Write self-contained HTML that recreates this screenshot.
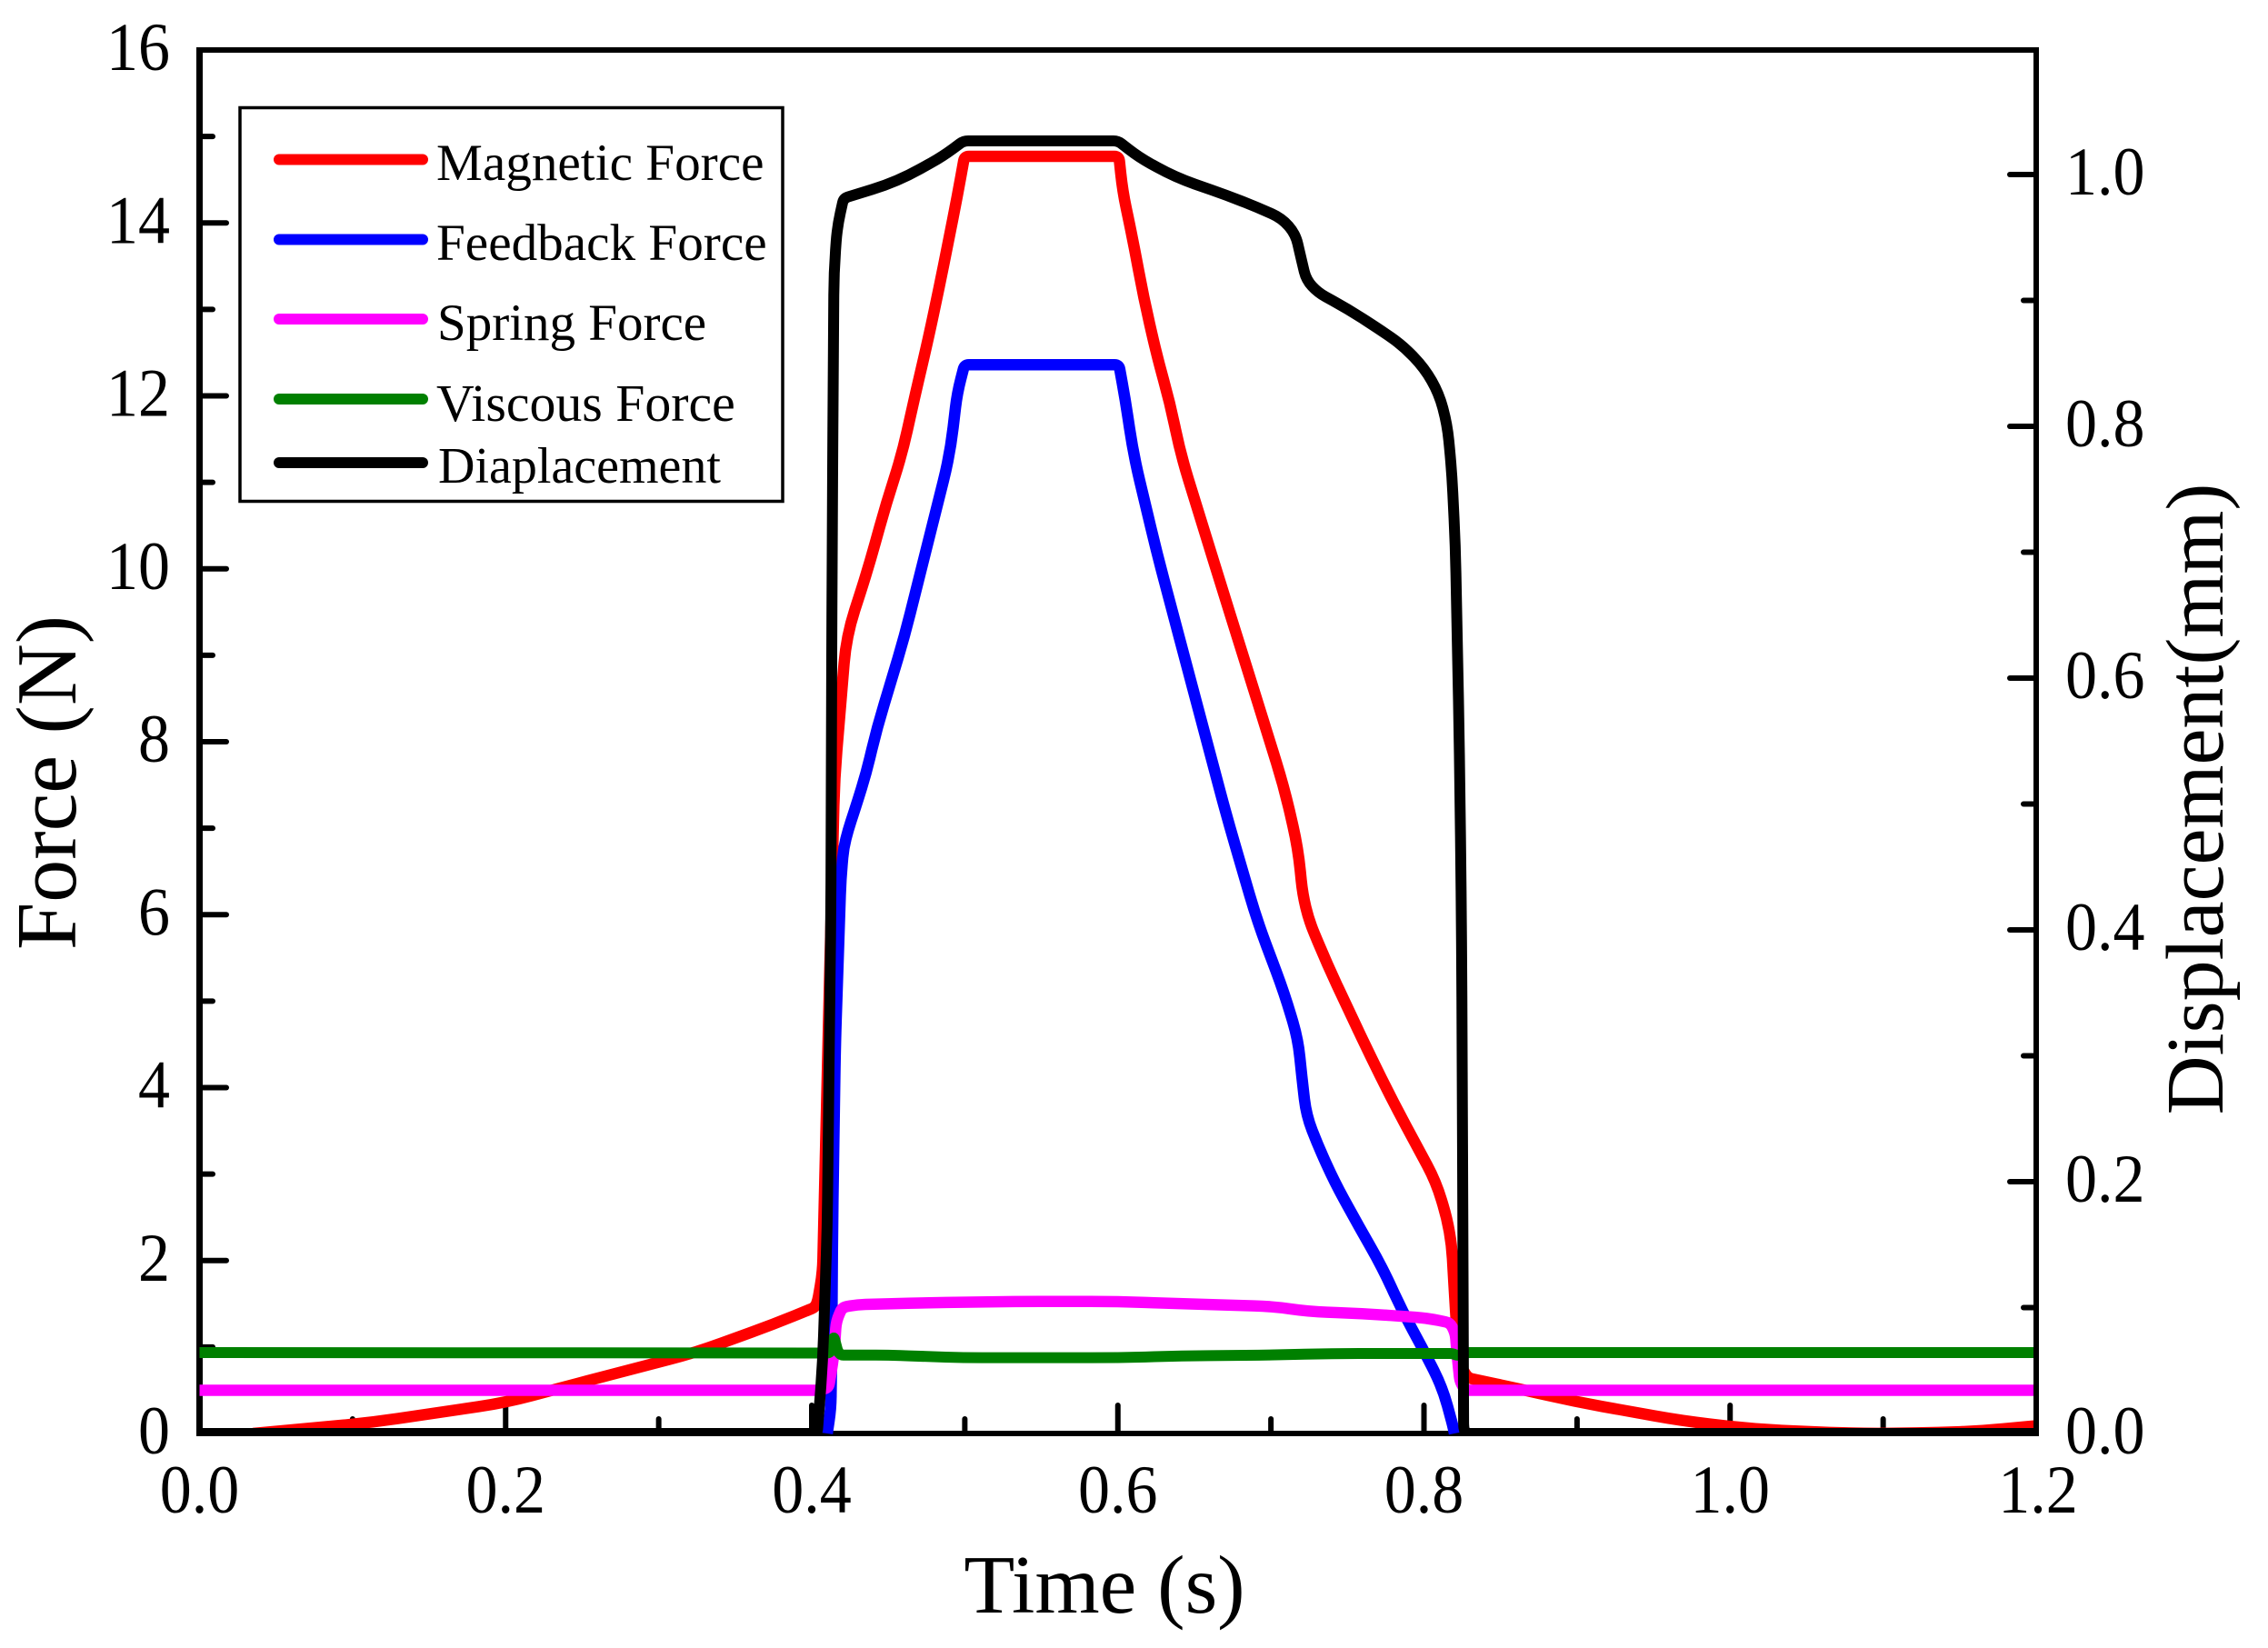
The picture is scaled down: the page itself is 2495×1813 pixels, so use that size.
<!DOCTYPE html>
<html lang="en">
<head>
<meta charset="utf-8">
<title>Force and displacement over time</title>
<style>
html,body{margin:0;padding:0;background:#fff;}
body{width:2495px;height:1813px;overflow:hidden;}
svg{display:block;}
text{font-family:"Liberation Serif","Times New Roman",serif;fill:#000;}
</style>
</head>
<body>
<svg id="chart" xmlns="http://www.w3.org/2000/svg" width="2495" height="1813" viewBox="0 0 2495 1813">
  <defs>
    <clipPath id="plot-clip"><rect x="219" y="50" width="2018" height="1530"></rect></clipPath>
  </defs>
  <rect x="0" y="0" width="2495" height="1813" fill="#fff"></rect>
  <g id="under-axes"></g>
  <g id="series" clip-path="url(#plot-clip)"></g>
  <g id="over-axes"></g>
  <g id="labels"></g>

  <text x="1215" y="1774" font-size="91.5" text-anchor="middle">Time (s)</text>
  <text transform="translate(83,861) rotate(-90)" font-size="94" text-anchor="middle">Force (N)</text>
  <text transform="translate(2445,879) rotate(-90)" font-size="90" text-anchor="middle">Displacement(mm)</text>

  <g>
    <rect x="264" y="118.5" width="597" height="433" fill="#fff" stroke="#000" stroke-width="3.5"></rect>
    <g>
      <line x1="307" y1="175.5" x2="465" y2="175.5" stroke="#ff0000" stroke-width="12" stroke-linecap="round"></line>
      <text x="480" y="198" font-size="57.2">Magnetic Force</text>
    </g>
    <g>
      <line x1="307" y1="263.5" x2="465" y2="263.5" stroke="#0000ff" stroke-width="12" stroke-linecap="round"></line>
      <text x="480" y="286" font-size="57.2">Feedback Force</text>
    </g>
    <g>
      <line x1="307" y1="351" x2="465" y2="351" stroke="#ff00ff" stroke-width="12" stroke-linecap="round"></line>
      <text x="481" y="374" font-size="57">Spring Force</text>
    </g>
    <g>
      <line x1="307" y1="439" x2="465" y2="439" stroke="#008000" stroke-width="12" stroke-linecap="round"></line>
      <text x="480" y="463" font-size="57.8">Viscous Force</text>
    </g>
    <g>
      <line x1="307" y1="509" x2="465" y2="509" stroke="#000000" stroke-width="12" stroke-linecap="round"></line>
      <text x="482" y="531" font-size="56">Diaplacement</text>
    </g>
  </g>
</svg>
<script>
// Categories / tick values
const xMajorTicks = [0, 0.2, 0.4, 0.6, 0.8, 1.0, 1.2];
const xMinorTicks = [0.1, 0.3, 0.5, 0.7, 0.9, 1.1];
const xTickLabels = ["0.0", "0.2", "0.4", "0.6", "0.8", "1.0", "1.2"];
const forceMajorTicks = [0, 2, 4, 6, 8, 10, 12, 14, 16];
const forceMinorTicks = [1, 3, 5, 7, 9, 11, 13, 15];
const forceTickLabels = ["0", "2", "4", "6", "8", "10", "12", "14", "16"];
const dispMajorTicks = [0, 0.2, 0.4, 0.6, 0.8, 1.0];
const dispMinorTicks = [0.1, 0.3, 0.5, 0.7, 0.9];
const dispTickLabels = ["0.0", "0.2", "0.4", "0.6", "0.8", "1.0"];

// Magnetic force
const magneticTime = [.035, .112, .2, .2514, .324, .3745, .4023, .404, .4071, .4113, .4149, .4226, .4368, .4487, .4589, .4678, .4755, .4832, .4891, .495, .4998, .6007, .6031, .6102, .6168, .6257, .634, .6411, .6685, .6964, .7088, .7177, .7207, .7249, .7367, .7504, .7646, .78, .8079, .815, .8181, .8205, .8229, .8288, .8597, .8989, .9684, 1.016, 1.066, 1.093, 1.136, 1.1645, 1.2];
const magneticForce = [0, .126, .357, .6, .935, 1.26, 1.46, 1.545, 1.86, 5.01, 7.58, 9.22, 10, 10.76, 11.32, 12.03, 12.61, 13.25, 13.77, 14.3, 14.77, 14.77, 14.37, 13.77, 13.14, 12.45, 11.92, 11.32, 9.75, 8.17, 7.46, 6.77, 6.24, 5.93, 5.43, 4.91, 4.38, 3.83, 2.91, 2.49, 2.18, 1.44, .81, .641, .526, .368, .147, .05, .01, 0, .01, .03, .09];

// Feedback force
const feedbackTime = [.4101, .4125, .4131, .4136, .4154, .419, .4208, .4238, .4297, .4356, .4428, .4517, .4606, .4903, .495, .4998, .6007, .6049, .6102, .6257, .6447, .6714, .691, .7088, .7177, .7201, .7231, .7308, .7415, .7576, .7725, .786, .799, .8121, .8187, .8199];
const feedbackForce = [0, .284, 1.02, 2.39, 4.49, 6.41, 6.77, 6.98, 7.3, 7.64, 8.17, 8.69, 9.22, 11.32, 12.03, 12.36, 12.36, 11.95, 11.32, 10.17, 8.9, 7.12, 5.93, 5.09, 4.56, 4.14, 3.68, 3.33, 2.91, 2.39, 1.93, 1.41, .99, .53, .1, 0];

// Spring force
const springTime = [0, .405, .411, .4145, .416, .42, .43, .47, .533, .6, .6417, .7011, .7249, .7605, .802, .817, .8205, .8217, .8235, .827, 1.2];
const springForce = [.5, .5, .53, .9, 1.3, 1.46, 1.49, 1.51, 1.527, 1.527, 1.5, 1.47, 1.41, 1.387, 1.335, 1.28, 1.16, .9, .6, .5, .5];

// Viscous force
const viscousTime = [0, .4125, .4143, .417, .419, .434, .45, .4754, .4992, .6, .6417, .7011, .7397, .8187, .8217, .827, 1.2];
const viscousForce = [.936, .93, 1.13, .95, .907, .907, .907, .89, .876, .876, .897, .907, .925, .925, .9, .936, .936];

// Displacement (right axis)
const dispTime = [0, .4036, .4071, .4101, .4125, .4131, .4137, .4145, .4166, .4208, .4558, .4855, .4992, .6001, .6138, .6375, .6714, .691, .707, .716, .7201, .7231, .7308, .7504, .7706, .786, .8003, .8098, .8152, .8181, .8205, .8229, .8241, .8247, .8253, .8259, .827, 1.2];
const dispValue = [0, 0, .0556, .1639, .4166, .6332, .7776, .922, .958, .9812, .9942, 1.0144, 1.0267, 1.0267, 1.0137, .9978, .9834, .974, .9653, .953, .9314, .9163, .9062, .8931, .8773, .8643, .8462, .826, .8014, .7653, .7054, .561, .4527, .3682, .2, .005, 0, 0];

const NS = 'http://www.w3.org/2000/svg';
function xScale(t) { return 219.5 + (t / 1.2) * 2020.5; }
function yForce(f) { return 1577 - (f / 16) * 1522; }
function yDisp(d) { return 1577 - (d / 1.1) * 1523.5; }

function mk(tag, attrs, parent) {
  const el = document.createElementNS(NS, tag);
  for (const k in attrs) el.setAttribute(k, attrs[k]);
  parent.appendChild(el);
  return el;
}

const under = document.getElementById('under-axes');
const over = document.getElementById('over-axes');
const seriesG = document.getElementById('series');
const labelsG = document.getElementById('labels');

function axisLine(x1, y1, x2, y2, w, parent, name) {
  const el = mk('line', { x1: x1, y1: y1, x2: x2, y2: y2, stroke: '#000', 'stroke-width': w }, parent);
  
  
}

function tick(x1, y1, x2, y2, parent, name) {
  const el = mk('line', { x1: x1, y1: y1, x2: x2, y2: y2, stroke: '#000', 'stroke-width': 6, 'stroke-linecap': 'round' }, parent);
  
  
}

function tickLabel(str, x, y, anchor, name) {
  const el = mk('text', { transform: 'translate(' + x + ',' + y + ') scale(1,1.08)', 'font-size': 70, 'text-anchor': anchor }, labelsG);
  el.textContent = str;
  
  
}

// Left and bottom axes sit under the series
axisLine(219.5, 52, 219.5, 1580, 7, under, 'left-axis-line');
axisLine(216, 1577, 2243, 1577, 6, under, 'bottom-axis-line');

xMajorTicks.forEach(function (v, i) {
  if (i > 0 && i < xMajorTicks.length - 1) tick(xScale(v), 1577, xScale(v), 1546, under, 'x-major-tick');
  tickLabel(xTickLabels[i], xScale(v) + (i === xMajorTicks.length - 1 ? 2 : 0), 1664, 'middle', 'x-tick-label');
});
xMinorTicks.forEach(function (v) {
  tick(xScale(v), 1577, xScale(v), 1561, under, 'x-minor-tick');
});
forceMajorTicks.forEach(function (v, i) {
  if (i > 0 && i < forceMajorTicks.length - 1) tick(219.5, yForce(v), 249, yForce(v), under, 'force-major-tick');
  tickLabel(forceTickLabels[i], 187, yForce(v) + 22, 'end', 'force-tick-label');
});
forceMinorTicks.forEach(function (v) {
  tick(219.5, yForce(v), 234, yForce(v), under, 'force-minor-tick');
});

// Straight segments with softened vertices: gentle bends get a wide radius, sharp corners stay tight
function roundedPath(xs, ys) {
  const n = xs.length;
  let d = 'M' + xs[0].toFixed(2) + ' ' + ys[0].toFixed(2);
  for (let i = 1; i < n - 1; i++) {
    const ax = xs[i] - xs[i - 1], ay = ys[i] - ys[i - 1];
    const bx = xs[i + 1] - xs[i], by = ys[i + 1] - ys[i];
    const la = Math.hypot(ax, ay), lb = Math.hypot(bx, by);
    if (la === 0 || lb === 0) continue;
    const cos = (ax * bx + ay * by) / (la * lb);
    const cap = cos < 0.82 ? 5 : 30;
    const r = Math.min(cap, la / 2, lb / 2);
    d += 'L' + (xs[i] - ax / la * r).toFixed(2) + ' ' + (ys[i] - ay / la * r).toFixed(2);
    d += 'Q' + xs[i].toFixed(2) + ' ' + ys[i].toFixed(2) + ' ' +
         (xs[i] + bx / lb * r).toFixed(2) + ' ' + (ys[i] + by / lb * r).toFixed(2);
  }
  d += 'L' + xs[n - 1].toFixed(2) + ' ' + ys[n - 1].toFixed(2);
  return d;
}

// Series, drawn in legend order so the displacement curve is on top
function drawSeries(times, values, yFn, color, width, name) {
  const xs = times.map(xScale);
  const ys = values.map(yFn);
  const el = mk('path', { d: roundedPath(xs, ys), fill: 'none', stroke: color, 'stroke-width': width, 'stroke-linejoin': 'round', 'stroke-linecap': 'butt' }, seriesG);
  
  
}
drawSeries(magneticTime, magneticForce, yForce, '#ff0000', 12.5, 'magnetic-force-line');
drawSeries(feedbackTime, feedbackForce, yForce, '#0000ff', 12.5, 'feedback-force-line');
drawSeries(springTime, springForce, yForce, '#ff00ff', 12.5, 'spring-force-line');
drawSeries(viscousTime, viscousForce, yForce, '#008000', 12, 'viscous-force-line');
drawSeries(dispTime, dispValue, yDisp, '#000000', 12, 'displacement-line');

// Top and right axes sit over the series
axisLine(216, 55, 2243, 55, 6, over, 'top-axis-line');
axisLine(2240, 52, 2240, 1580, 6, over, 'right-axis-line');
dispMajorTicks.forEach(function (v, i) {
  if (i > 0) tick(2240, yDisp(v), 2211, yDisp(v), over, 'displacement-major-tick');
  tickLabel(dispTickLabels[i], 2272, yDisp(v) + 22, 'start', 'displacement-tick-label');
});
dispMinorTicks.forEach(function (v) {
  tick(2240, yDisp(v), 2226, yDisp(v), over, 'displacement-minor-tick');
});
</script>
</body>
</html>
